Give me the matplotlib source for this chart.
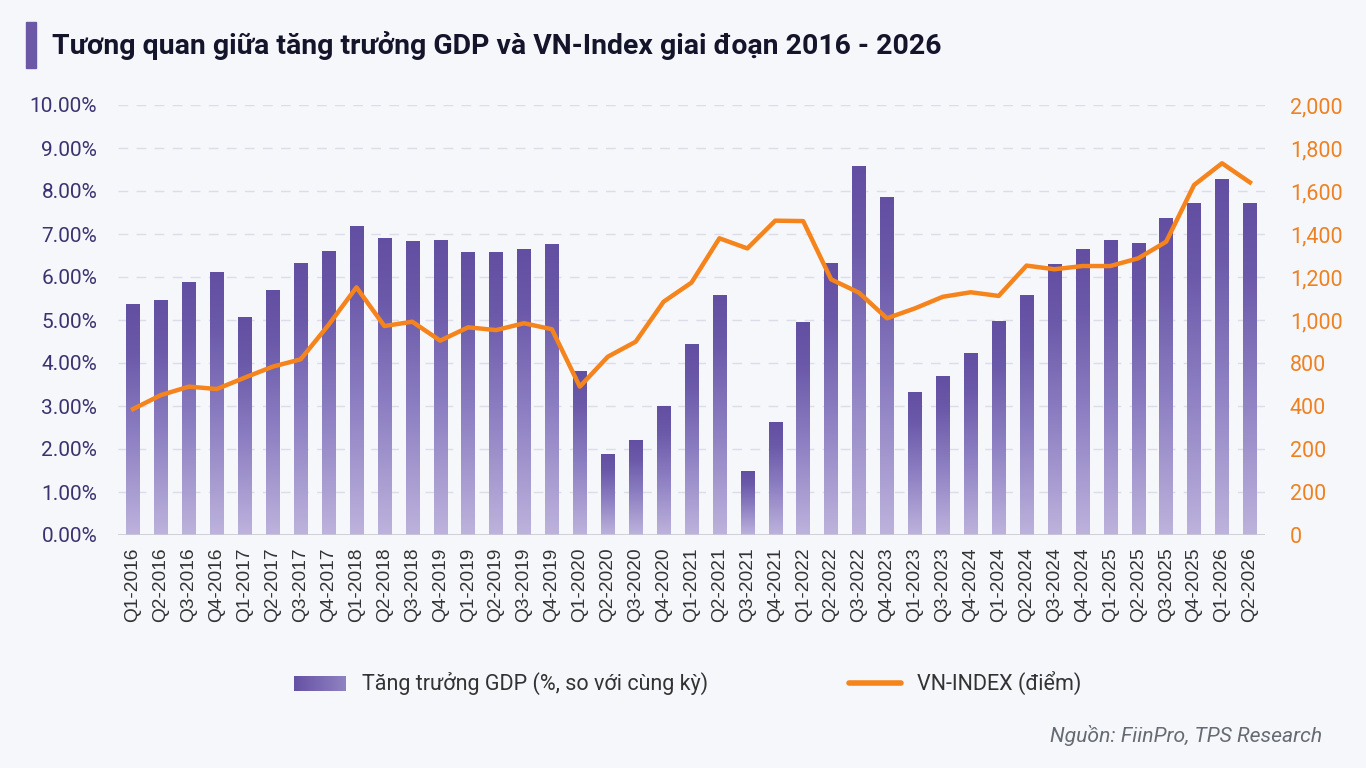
import numpy as np
import matplotlib
matplotlib.use('Agg')
import matplotlib.pyplot as plt
from matplotlib.colors import LinearSegmentedColormap
from matplotlib.patches import Rectangle
from matplotlib.lines import Line2D

quarters = ['Q1-2016', 'Q2-2016', 'Q3-2016', 'Q4-2016', 'Q1-2017', 'Q2-2017', 'Q3-2017', 'Q4-2017',
            'Q1-2018', 'Q2-2018', 'Q3-2018', 'Q4-2019', 'Q1-2019', 'Q2-2019', 'Q3-2019', 'Q4-2019',
            'Q1-2020', 'Q2-2020', 'Q3-2020', 'Q4-2020', 'Q1-2021', 'Q2-2021', 'Q3-2021', 'Q4-2021',
            'Q1-2022', 'Q2-2022', 'Q3-2022', 'Q4-2023', 'Q1-2023', 'Q3-2023', 'Q4-2024', 'Q1-2024',
            'Q2-2024', 'Q3-2024', 'Q4-2024', 'Q1-2025', 'Q2-2025', 'Q3-2025', 'Q4-2025', 'Q1-2026',
            'Q2-2026']

gdp = [5.37, 5.47, 5.88, 6.12, 5.07, 5.70, 6.33, 6.60,
       7.19, 6.91, 6.84, 6.86, 6.58, 6.58, 6.65, 6.77,
       3.82, 1.88, 2.21, 3.01, 4.44, 5.57, 1.49, 2.62,
       4.96, 6.32, 8.59, 7.87, 3.33, 3.70, 4.24, 4.98,
       5.57, 6.30, 6.64, 6.86, 6.78, 7.37, 7.72, 8.28,
       7.72]

vnindex = [586, 651, 690, 679, 732, 783, 817, 977,
           1152, 972, 992, 904, 966, 953, 985, 957,
           690, 829, 899, 1085, 1174, 1380, 1333, 1462,
           1460, 1189, 1127, 1008, 1054, 1108, 1129, 1112,
           1253, 1236, 1251, 1251, 1287, 1364, 1628, 1729,
           1640]

left_ticks = [0, 1, 2, 3, 4, 5, 6, 7, 8, 9, 10]
left_ticklabels = ['0.00%', '1.00%', '2.00%', '3.00%', '4.00%', '5.00%',
                   '6.00%', '7.00%', '8.00%', '9.00%', '10.00%']
right_ticks = [0, 200, 400, 600, 800, 1000, 1200, 1400, 1600, 1800, 2000]
right_ticklabels = ['0', '200', '200', '400', '800', '1,000', '1,200',
                    '1,400', '1,600', '1,800', '2,000']

title = 'Tương quan giữa tăng trưởng GDP và VN-Index giai đoạn 2016 - 2026'
legend_bar = 'Tăng trưởng GDP (%, so với cùng kỳ)'
legend_line = 'VN-INDEX (điểm)'
source = 'Nguồn: FiinPro, TPS Research'

BG = '#f6f7fb'
PURPLE_TXT = '#3b336f'
ORANGE = '#f5841c'
W, H = 1366, 768

plt.rcParams['font.family'] = ['Roboto', 'DejaVu Sans']

fig = plt.figure(figsize=(13.66, 7.68), dpi=100, facecolor=BG)
ax = fig.add_axes([118 / W, 1 - 535 / H, (1265 - 118) / W, 430 / H])
ax.set_facecolor(BG)

cmap = LinearSegmentedColormap.from_list(
    'barg', [(0.0, '#bdb3dc'), (0.45, '#8b7dc1'), (0.8, '#6a58a8'), (1.0, '#634fa2')])
grad = np.linspace(0, 1, 256).reshape(-1, 1)

x = np.arange(len(quarters))
bars = ax.bar(x, gdp, width=0.48, color='none', edgecolor='none', zorder=2)
for b in bars:
    x0, y0, w, h = b.get_x(), b.get_y(), b.get_width(), b.get_height()
    im = ax.imshow(grad, cmap=cmap, extent=[x0, x0 + w, y0, y0 + h], origin='lower',
                   aspect='auto', zorder=2, interpolation='bilinear')
    im.set_clip_path(b)

ax.set_xlim(-0.54, 40.54)
ax.set_ylim(0, 10)
ax.set_yticks(left_ticks)
ax.set_yticklabels(left_ticklabels)
ax.set_xticks(x)
ax.set_xticklabels(quarters, rotation=90, fontfamily=['Liberation Sans', 'DejaVu Sans'],
                   fontsize=13.8, color='#333333')
ax.tick_params(axis='x', length=0, pad=9)
ax.tick_params(axis='y', length=0, pad=15, labelsize=15, labelcolor=PURPLE_TXT)
for s in ax.spines.values():
    s.set_visible(False)
for yv in left_ticks[1:]:
    ax.axhline(yv, color='#dcdde8', lw=1, dashes=(7, 6), zorder=1)
ax.axhline(0, color='#c8c9d4', lw=1.2, zorder=3)

ax2 = ax.twinx()
ax2.plot(x, vnindex, color=ORANGE, lw=3.2, zorder=4, solid_joinstyle='round')
ax2.set_ylim(0, 2000)
ax2.set_yticks(right_ticks)
ax2.set_yticklabels(right_ticklabels)
ax2.tick_params(axis='y', length=0, pad=18, labelsize=15.5, labelcolor='#ee8121')
for s in ax2.spines.values():
    s.set_visible(False)

# Title with accent bar
fig.patches.append(Rectangle((26 / W, 1 - 68 / H), 10 / W, 46 / H, transform=fig.transFigure,
                             color='#6b59a7', zorder=5))
fig.text(52 / W, 1 - 46 / H, title, fontsize=20.4, fontweight='bold', color='#14142b',
         va='center', ha='left')

# Legend
lax = fig.add_axes([0, 0, 1, 1], facecolor='none')
lax.set_xlim(0, W)
lax.set_ylim(H, 0)
lax.axis('off')
pr = Rectangle((294, 676), 52, 15, facecolor='none', edgecolor='none')
lax.add_patch(pr)
gim = lax.imshow(np.linspace(0, 1, 64).reshape(1, -1), cmap=LinearSegmentedColormap.from_list(
    'lg', ['#6652a4', '#8f82c2']), extent=[294, 346, 691, 676], aspect='auto')
gim.set_clip_path(pr)
lax.text(362, 683, legend_bar, fontsize=15.5, color='#333333', va='center', ha='left')
lax.add_line(Line2D([849, 901], [683, 683], color=ORANGE, lw=4, solid_capstyle='round'))
lax.text(917, 683, legend_line, fontsize=15.5, color='#333333', va='center', ha='left')
lax.set_xlim(0, W)
lax.set_ylim(H, 0)

fig.text(1322 / W, 1 - 735 / H, source, fontsize=15.2, style='italic', color='#666a72',
         ha='right', va='center')

fig.savefig('out.png', dpi=100, facecolor=BG)
